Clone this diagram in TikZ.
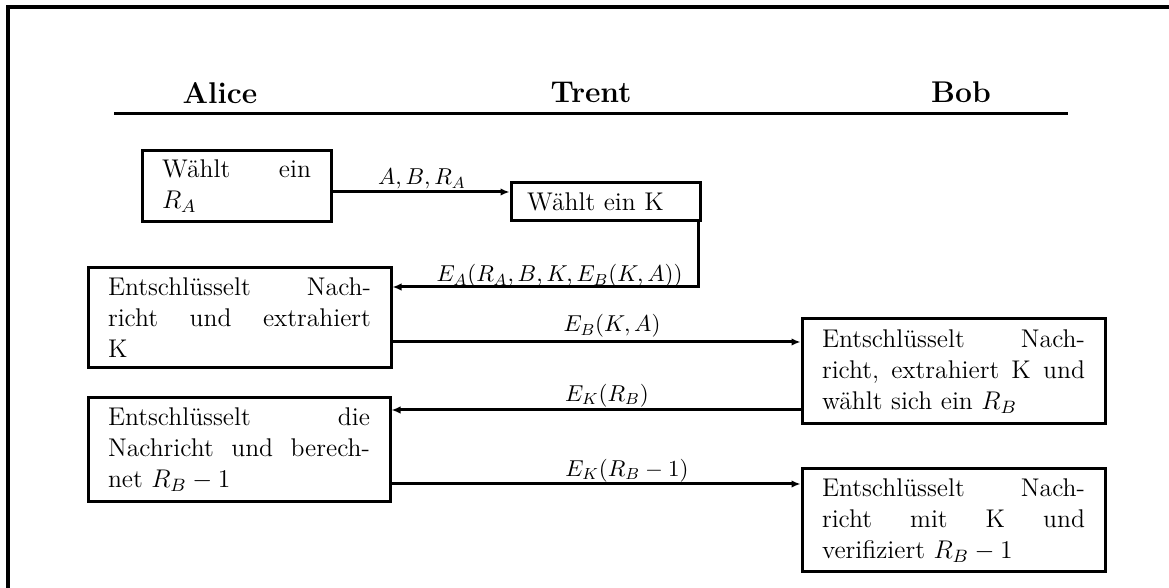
\RequirePackage{fix-cm}
\documentclass[tikz,border=0pt]{standalone}
\usetikzlibrary{arrows.meta}
\setlength{\parindent}{0pt}
% one fully justified line of a box text, of the given width;
% the gaps to spread are marked with \hfill
\newcommand\jl[2][131.5pt]{\makebox[#1][l]{#2}}
\tikzset{
  box/.style={draw, line width=1.5pt, inner ysep=0pt, inner xsep=10pt,
    align=left, font=\fontsize{12.8}{15.5}\selectfont},
  lbl/.style={inner sep=0pt, font=\fontsize{11.5}{14}\selectfont},
  who/.style={inner sep=0pt, font=\fontsize{15}{18}\selectfont\bfseries},
  msg/.style={line width=1.5pt, -{Latex[length=4.5pt,width=3.8pt]}},
}
\begin{document}
\begin{tikzpicture}[x=0.5pt,y=-0.5pt]
\useasboundingbox (0,0) rectangle (1169,588);
% frame
\draw[line width=1.9pt] (8.3,588) -- (8.3,7) -- (1169,7);

% parties
\node[who, anchor=base] (alice) at (220,104) {Alice};
\node[who, anchor=base] (trent) at (591,103) {Trent};
\node[who, anchor=base] (bob)   at (961,103) {Bob};
\draw[line width=1.15pt] (114,113.5) -- (1068,113.5);

% steps
\node[box, text width=74.5pt, minimum height=35.5pt] (a1) at (236.5,186.5)
  {\jl[74.5pt]{Wählt \hfill ein}\\ $R_A$};
\node[box, text width=78.5pt, inner xsep=8pt, minimum height=19pt] (t1) at (605.5,202)
  {Wählt ein K};
\node[box, text width=131.5pt, minimum height=50pt] (a2) at (239.5,318)
  {\jl{Entschlüsselt \hfill Nach-}\\ \jl{richt \hfill und \hfill extrahiert}\\ K};
\node[box, text width=131.5pt, minimum height=52.5pt] (b1) at (953.5,371.5)
  {\jl{Entschlüsselt \hfill Nach-}\\ \jl{richt, \hfill extrahiert \hfill K \hfill und}\\ wählt sich ein $R_B$};
\node[box, text width=131pt, minimum height=52pt] (a3) at (239,450)
  {\jl[131pt]{Entschlüsselt \hfill die}\\ \jl[131pt]{Nachricht \hfill und \hfill berech-}\\ net $R_B-1$};
\node[box, text width=131.5pt, minimum height=51.5pt] (b2) at (953.5,520.5)
  {\jl{Entschlüsselt \hfill Nach-}\\ \jl{richt \hfill mit \hfill K \hfill und}\\ verifiziert $R_B-1$};

% messages
\coordinate (y1) at (0,192);
\coordinate (y2) at (0,287);
\coordinate (y3) at (0,342);
\coordinate (y4) at (0,410);
\coordinate (y5) at (0,484);

\draw[msg] (a1.east |- y1) -- (t1.west |- y1);
\node[lbl, anchor=base] (l1) at (422,185) {$A,B,R_A$};

\draw[msg] ([xshift=-1.5pt]t1.south east) |- (a2.east |- y2);
\node[lbl, anchor=base east] (l2) at (683,282) {$E_A(R_A,B,K,E_B(K,A))$};

\draw[msg] (a2.east |- y3) -- (b1.west |- y3);
\node[lbl, anchor=base] (l3) at (612,332) {$E_B(K,A)$};

\draw[msg] (b1.west |- y4) -- (a3.east |- y4);
\node[lbl, anchor=base] (l4) at (607,401.5) {$E_K(R_B)$};

\draw[msg] (a3.east |- y5) -- (b2.west |- y5);
\node[lbl, anchor=base] (l5) at (627,476.5) {$E_K(R_B-1)$};
\end{tikzpicture}
\end{document}
